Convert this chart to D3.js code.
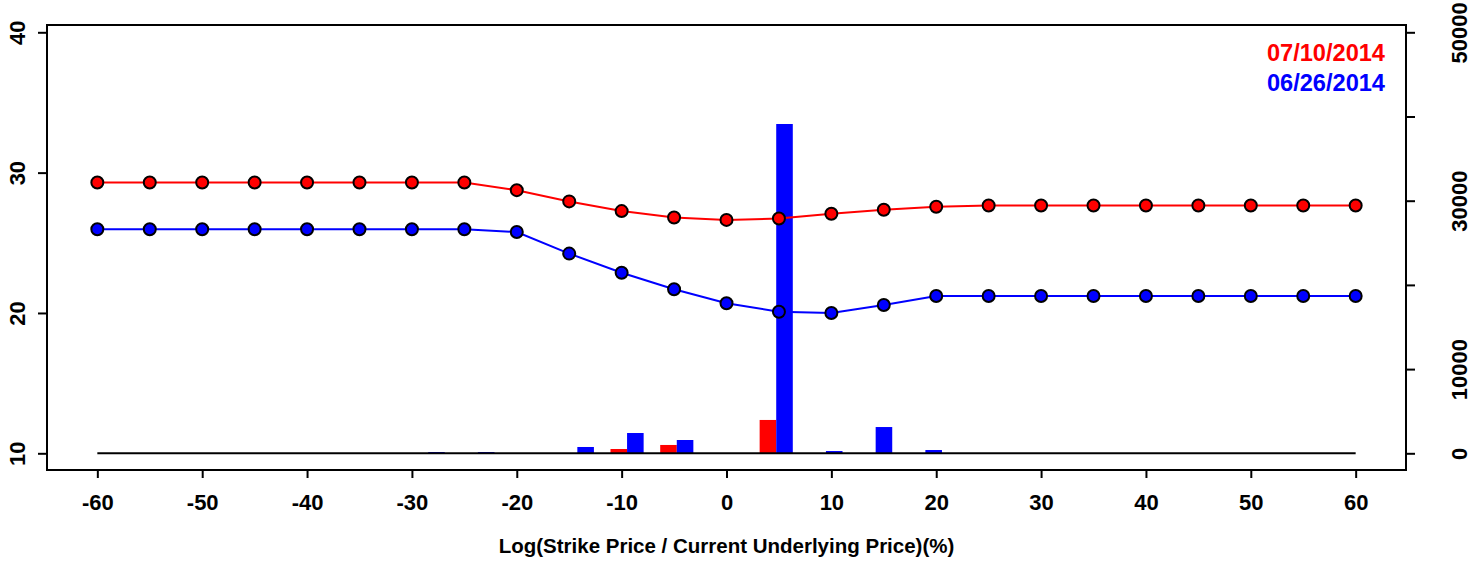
<!DOCTYPE html>
<html>
<head>
<meta charset="utf-8">
<script src="https://cdn.jsdelivr.net/npm/d3@7"></script>
<style>
  body { margin: 0; background: #fff; }
  svg { display: block; font-family: "Liberation Sans", Arial, sans-serif; font-weight: bold; }
</style>
</head>
<body>
<div id="chart"></div>
<script>
// strikes, in log(strike / underlying) percent
const strikes = [-60, -55, -50, -45, -40, -35, -30, -25, -20, -15, -10, -5, 0, 5, 10, 15, 20, 25, 30, 35, 40, 45, 50, 55, 60];

// implied vol curves
const ivRed = [29.3, 29.3, 29.3, 29.3, 29.3, 29.3, 29.3, 29.3, 28.75, 27.95, 27.26, 26.8, 26.63, 26.73, 27.07, 27.36, 27.57, 27.66, 27.66, 27.66, 27.66, 27.66, 27.66, 27.66, 27.66];
const ivBlue = [25.97, 25.97, 25.97, 25.97, 25.97, 25.97, 25.97, 25.97, 25.77, 24.23, 22.87, 21.69, 20.69, 20.09, 20.0, 20.57, 21.21, 21.21, 21.21, 21.21, 21.21, 21.21, 21.21, 21.21, 21.21];

// volume bars, one group per slot (red = 07/10, blue = 06/26)
const volRed = [0, 0, 0, 0, 0, 0, 0, 0, 0, 0, 0, 510, 990, 0, 3960, 0, 0, 0, 0, 0, 0, 0, 0, 0, 0, 0, 0];
const volBlue = [0, 0, 0, 0, 0, 0, 0, 150, 150, 0, 750, 2410, 1580, 0, 39110, 270, 3120, 390, 0, 0, 0, 0, 0, 0, 0, 0, 0];

const xTicks = [-60, -50, -40, -30, -20, -10, 0, 10, 20, 30, 40, 50, 60];
const yTicks = [10, 20, 30, 40];
const y2Ticks = [0, 10000, 20000, 30000, 40000, 50000];
const y2Labels = [0, 10000, 30000, 50000];
const legend = [
    { label: '07/10/2014', color: '#ff0000' },
    { label: '06/26/2014', color: '#0000ff' }
];

const width = 1484, height = 561;
const m = { left: 47, right: 1406, top: 25, bottom: 470 };

const svg = d3.select('#chart').append('svg')
    .attr('width', width)
    .attr('height', height);

const x = d3.scaleLinear().domain([-64.8, 64.8]).range([m.left, m.right]);
const y = d3.scaleLinear().domain([8.81, 40.52]).range([m.bottom, m.top]);
const y2 = d3.scaleLinear().domain([-1983, 50867]).range([m.bottom, m.top]);
// bar slots: 3 units per group (gap, red, blue)
const xb = d3.scaleLinear().domain([0, 82]).range([m.left, m.right]);

// bars
const bars = svg.append('g');
volRed.forEach((v, i) => {
    if (v > 0) bars.append('rect')
        .attr('x', xb(3 * i + 1)).attr('width', xb(3 * i + 2) - xb(3 * i + 1))
        .attr('y', y2(v)).attr('height', y2(0) - y2(v))
        .attr('fill', '#ff0000');
});
volBlue.forEach((v, i) => {
    if (v > 0) bars.append('rect')
        .attr('x', xb(3 * i + 2)).attr('width', xb(3 * i + 3) - xb(3 * i + 2))
        .attr('y', y2(v)).attr('height', y2(0) - y2(v))
        .attr('fill', '#0000ff');
});

// baseline at y = 10
svg.append('line')
    .attr('x1', x(strikes[0])).attr('x2', x(strikes[strikes.length - 1]))
    .attr('y1', y(10)).attr('y2', y(10))
    .attr('stroke', '#000').attr('stroke-width', 2);

// vol curves
const line = d3.line().x((d, i) => x(strikes[i])).y(d => y(d));
[[ivRed, '#ff0000'], [ivBlue, '#0000ff']].forEach(([vals, col]) => {
    svg.append('path')
        .attr('d', line(vals))
        .attr('fill', 'none')
        .attr('stroke', col)
        .attr('stroke-width', 2);
    svg.append('g').selectAll('circle')
        .data(vals)
        .enter().append('circle')
        .attr('cx', (d, i) => x(strikes[i]))
        .attr('cy', d => y(d))
        .attr('r', 6)
        .attr('fill', col)
        .attr('stroke', '#000')
        .attr('stroke-width', 2);
});

// box
svg.append('rect')
    .attr('x', m.left).attr('y', m.top)
    .attr('width', m.right - m.left).attr('height', m.bottom - m.top)
    .attr('fill', 'none').attr('stroke', '#000').attr('stroke-width', 2);

// axes
const xAxis = svg.append('g')
    .attr('transform', `translate(0,${m.bottom})`)
    .call(d3.axisBottom(x).tickValues(xTicks).tickSize(8).tickFormat(d => String(d)));
const yAxis = svg.append('g')
    .attr('transform', `translate(${m.left},0)`)
    .call(d3.axisLeft(y).tickValues(yTicks).tickSize(9));
const y2Axis = svg.append('g')
    .attr('transform', `translate(${m.right},0)`)
    .call(d3.axisRight(y2).tickValues(y2Ticks).tickSize(9)
        .tickFormat(d => y2Labels.includes(d) ? String(d) : ''));

[xAxis, yAxis, y2Axis].forEach(g => {
    g.select('.domain').remove();
    g.selectAll('.tick line').attr('stroke', '#000').attr('stroke-width', 2);
    g.selectAll('.tick text')
        .attr('fill', '#000')
        .style('font-size', '22px')
        .style('font-weight', 'bold')
        .style('font-family', '"Liberation Sans", Arial, sans-serif');
});

// x labels: baseline near 510
xAxis.selectAll('.tick text').attr('dy', null).attr('y', 40);

// rotated y labels
yAxis.selectAll('.tick text')
    .attr('x', null).attr('dy', null)
    .attr('text-anchor', 'middle')
    .attr('transform', 'translate(-22,0) rotate(-90)')
    .attr('y', 0);
y2Axis.selectAll('.tick text')
    .attr('x', null).attr('dy', null)
    .attr('text-anchor', 'middle')
    .attr('transform', 'translate(61,0) rotate(-90)')
    .attr('y', 0);

// axis title
svg.append('text')
    .attr('x', (x(-60) + x(60)) / 2)
    .attr('y', 553)
    .attr('text-anchor', 'middle')
    .style('font-size', '20.5px')
    .text('Log(Strike Price / Current Underlying Price)(%)');

// legend
svg.append('g').selectAll('text')
    .data(legend)
    .enter().append('text')
    .attr('x', 1385)
    .attr('y', (d, i) => 61 + i * 30)
    .attr('text-anchor', 'end')
    .attr('fill', d => d.color)
    .style('font-size', '23.6px')
    .text(d => d.label);
</script>
</body>
</html>
